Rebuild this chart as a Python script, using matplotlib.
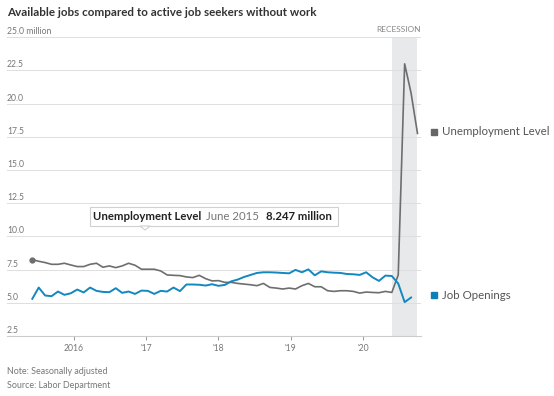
import matplotlib
matplotlib.use("Agg")
import matplotlib.pyplot as plt
import matplotlib.patches as mpatches
import numpy as np

plt.rcParams['font.family'] = ['Lato', 'DejaVu Sans']

# monthly data, June 2015 .. June 2020 (millions)
unemployment = [8.25, 8.13, 8.03, 7.90, 7.90, 7.98, 7.85, 7.73, 7.73, 7.90,
                7.98, 7.68, 7.78, 7.65, 7.78, 7.98, 7.83, 7.53, 7.53, 7.53,
                7.40, 7.10, 7.07, 7.05, 6.95, 6.90, 7.07, 6.82, 6.65, 6.67,
                6.54, 6.54, 6.46, 6.41, 6.36, 6.29, 6.46, 6.16, 6.11, 6.04,
                6.11, 6.04, 6.29, 6.46, 6.21, 6.21, 5.91, 5.86, 5.91, 5.91,
                5.86, 5.73, 5.81, 5.78, 5.76, 5.86, 5.78, 7.10, 23.0, 20.8,
                17.76]
job_openings = [5.30, 6.15, 5.55, 5.50, 5.85, 5.60, 5.72, 6.00, 5.78, 6.15,
                5.90, 5.82, 5.80, 6.10, 5.75, 5.85, 5.67, 5.92, 5.90, 5.67,
                5.90, 5.85, 6.15, 5.88, 6.38, 6.38, 6.36, 6.30, 6.40, 6.28,
                6.35, 6.62, 6.75, 6.95, 7.10, 7.25, 7.30, 7.30, 7.28, 7.25,
                7.22, 7.48, 7.30, 7.52, 7.07, 7.37, 7.30, 7.27, 7.25, 7.17,
                7.15, 7.10, 7.30, 6.92, 6.65, 7.05, 7.02, 6.45, 5.05, 5.40]
months_u = np.arange(len(unemployment))
months_j = np.arange(len(job_openings))

recession = (56, 60)  # Feb 2020 .. Jun 2020
xtick_pos = [6.45, 17.75, 29.0, 40.25, 51.5]
xtick_labels = ['2016', "'17", "'18", "'19", "'20"]
yticks = [2.5, 5.0, 7.5, 10.0, 12.5, 15.0, 17.5, 20.0, 22.5, 25.0]

GRAY = '#6e6e6e'
BLUE = '#1388c0'
TXT = '#777777'

W, H = 554, 396
fig = plt.figure(figsize=(W / 100, H / 100), dpi=100)
ax = fig.add_axes([7 / W, 1 - 336 / H, (420.7 - 7) / W, (336 - 37.3) / H])


def fx(x):
    return x / W


def fy(y):
    return 1 - y / H


ax.set_xlim(-3.94, 60.5)
ax.set_ylim(2.5, 25)

ax.axvspan(recession[0], recession[1], color='#e8e9eb', lw=0, zorder=0)
for v in yticks[1:]:
    ax.axhline(v, color='#dedede', lw=0.7, zorder=1)

ax.plot(months_u, unemployment, color=GRAY, lw=1.2, zorder=3)
ax.plot(months_j, job_openings, color=BLUE, lw=1.4, zorder=4)
ax.plot(months_u[0], unemployment[0], 'o', color=GRAY, ms=3.5, zorder=5)

for s in ['top', 'right', 'left']:
    ax.spines[s].set_visible(False)
ax.spines['bottom'].set_color('#cccccc')
ax.spines['bottom'].set_linewidth(0.8)
ax.set_yticks([])
ax.set_xticks(xtick_pos)
ax.set_xticklabels(xtick_labels, fontsize=6.2, color=TXT)
ax.tick_params(axis='x', length=3, width=0.7, color='#999999', pad=3)

for v in yticks:
    lab = '25.0 million' if v == 25.0 else f'{v:.1f}'
    ax.text(0, v + 0.08, lab, transform=ax.get_yaxis_transform(),
            fontsize=6.2, color=TXT, ha='left', va='bottom')

ax.text(1.0, 25.3, 'RECESSION', transform=ax.get_yaxis_transform(),
        fontsize=6.0, color='#888888', ha='right', va='bottom')

# end labels
for yv, label, col in [(17.9, 'Unemployment Level', '#666666'),
                       (5.58, 'Job Openings', '#0e7fb8')]:
    ax.plot(1.032, yv, 's', color=col, ms=5, transform=ax.get_yaxis_transform(),
            clip_on=False)
    ax.text(1.052, yv, label, transform=ax.get_yaxis_transform(),
            fontsize=8.3, color='#555555', ha='left', va='center')

# tooltip
box = mpatches.Rectangle((fx(90), fy(226)), fx(338) - fx(90), fy(206.5) - fy(226),
                         transform=fig.transFigure, facecolor='white',
                         edgecolor='#d0d0d0', lw=0.8, zorder=10)
fig.patches.append(box)
tri = mpatches.Polygon([(fx(140), fy(226)), (fx(150), fy(226)), (fx(145), fy(230))],
                       closed=True, transform=fig.transFigure, facecolor='white',
                       edgecolor='#d0d0d0', lw=0.8, zorder=11)
fig.patches.append(tri)
t1 = fig.text(fx(93), fy(216.5), 'Unemployment Level', fontsize=8.2, weight='bold',
              color='#222222', va='center', zorder=12)
t2 = fig.text(0, 0, 'June 2015', fontsize=8.2, color='#777777', va='center', zorder=12)
t3 = fig.text(0, 0, '8.247 million', fontsize=8.2, weight='bold',
              color='#222222', va='center', zorder=12)
fig.canvas.draw()
r = fig.canvas.get_renderer()
e1 = t1.get_window_extent(r)
t2.set_position((fx(e1.x1 + 5), fy(216.5)))
e2 = t2.get_window_extent(r)
t3.set_position((fx(e2.x1 + 7), fy(216.5)))

fig.text(fx(7), fy(12), 'Available jobs compared to active job seekers without work',
         fontsize=8.4, weight='bold', color='#333333', va='center')
fig.text(fx(7), fy(372), 'Note: Seasonally adjusted', fontsize=6.4, color=TXT, va='center')
fig.text(fx(7), fy(386), 'Source: Labor Department', fontsize=6.4, color=TXT, va='center')

fig.savefig('out.png', dpi=100)
